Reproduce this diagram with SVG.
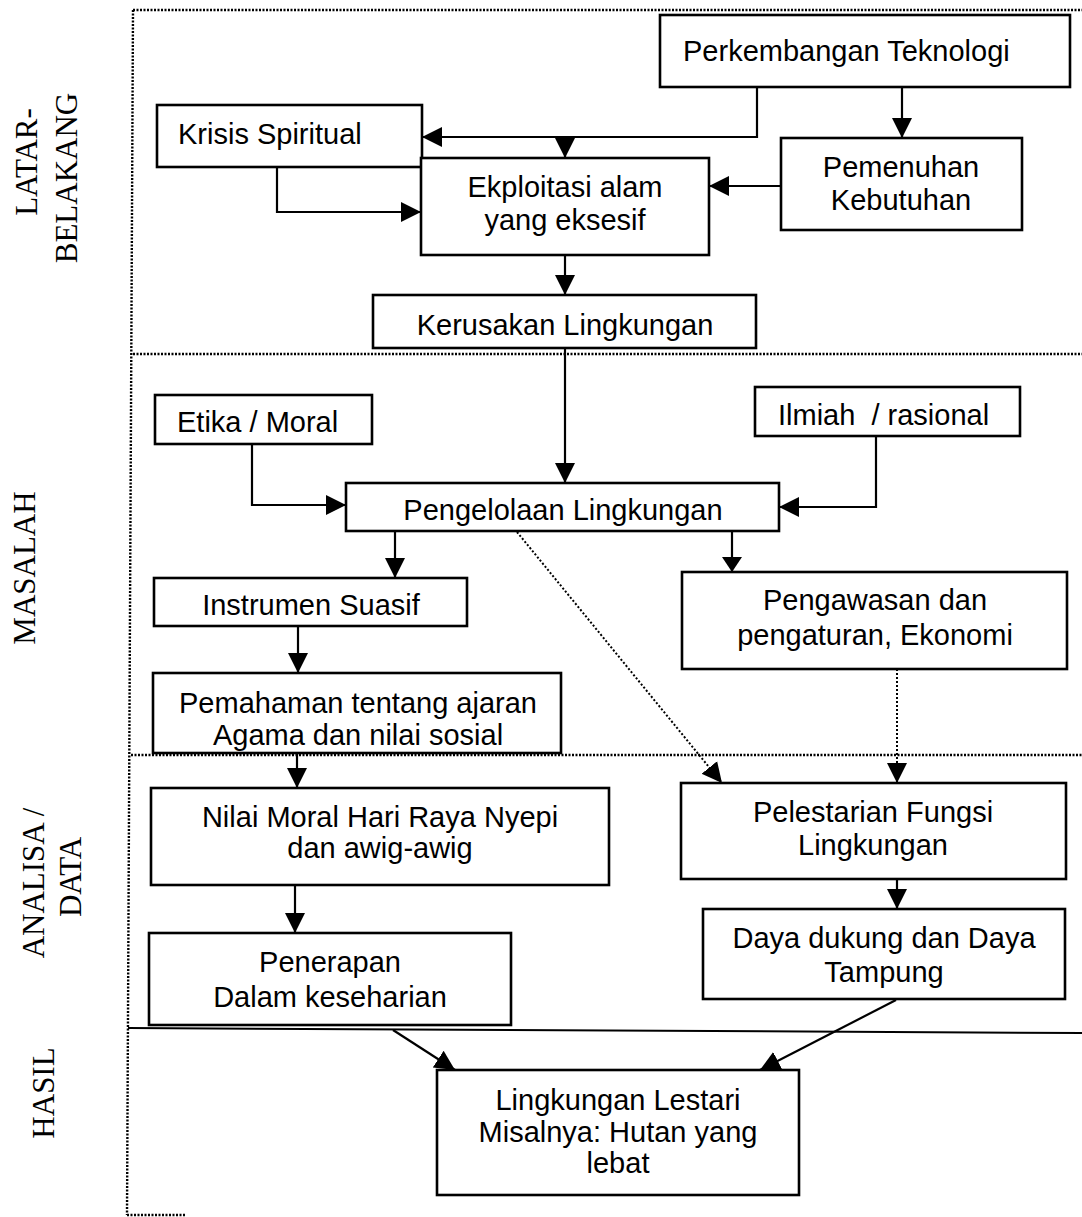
<svg xmlns="http://www.w3.org/2000/svg" width="1082" height="1217" viewBox="0 0 1082 1217">
<defs>
<marker id="ah" markerUnits="userSpaceOnUse" markerWidth="22" markerHeight="22" refX="20" refY="11" orient="auto" viewBox="0 0 22 22">
<path d="M0,1 L20,11 L0,21 z" fill="#000"/>
</marker>
<marker id="ahs" markerUnits="userSpaceOnUse" markerWidth="22" markerHeight="22" refX="15" refY="11" orient="auto" viewBox="0 0 22 22">
<path d="M0,1 L15,11 L0,21 z" fill="#000"/>
</marker>
</defs>
<style>
.box{fill:#fff;stroke:#000;stroke-width:2.6}
.t{font-family:"Liberation Sans",Arial,sans-serif;font-size:29px;fill:#000;text-anchor:middle}
.ts{font-family:"Liberation Sans",Arial,sans-serif;font-size:29px;fill:#000;text-anchor:start}
.lab{font-family:"Liberation Serif","Times New Roman",serif;font-size:31px;fill:#000;text-anchor:middle}
.dot{fill:none;stroke:#000;stroke-width:2.4;stroke-dasharray:2 1.5}
.c{fill:none;stroke:#000;stroke-width:2.2;marker-end:url(#ah)}
.cs{fill:none;stroke:#000;stroke-width:2.2;marker-end:url(#ahs)}
.cd{fill:none;stroke:#000;stroke-width:2;stroke-dasharray:2 2;marker-end:url(#ah)}
</style>
<rect width="1082" height="1217" fill="#fff"/>
<g id="frame">
<line class="dot" x1="133" y1="10" x2="1082" y2="10"/>
<line class="dot" x1="133" y1="10" x2="127" y2="1215"/>
<line class="dot" x1="133" y1="354" x2="1082" y2="354"/>
<line class="dot" x1="131" y1="755" x2="1082" y2="755"/>
<line x1="128" y1="1028" x2="1082" y2="1033" stroke="#000" stroke-width="2"/>
<line class="dot" x1="127" y1="1215" x2="185" y2="1215"/>
</g>
<g id="labels">
<text class="lab" transform="translate(37,162) rotate(-90)">LATAR-</text>
<text class="lab" transform="translate(77,178) rotate(-90)">BELAKANG</text>
<text class="lab" transform="translate(35,568) rotate(-90)">MASALAH</text>
<text class="lab" transform="translate(44,883) rotate(-90)">ANALISA /</text>
<text class="lab" transform="translate(81,877) rotate(-90)">DATA</text>
<text class="lab" transform="translate(54,1093) rotate(-90)">HASIL</text>
</g>
<g id="connectors">
<path class="c" d="M757,87 V137 H422"/>
<path class="c" d="M565,137 V158"/>
<path class="c" d="M902,87 V138"/>
<path class="c" d="M781,186 H709"/>
<path class="c" d="M277,167 V212 H421"/>
<path class="c" d="M565,255 V295"/>
<path class="c" d="M565,348 V483"/>
<path class="c" d="M252,444 V505 H346"/>
<path class="c" d="M876,436 V507 H779"/>
<path class="c" d="M395,531 V578"/>
<path class="cs" d="M732,531 V572"/>
<path class="cd" d="M517,532 L722,783"/>
<path class="cd" d="M897,669 V783"/>
<path class="c" d="M298,626 V673"/>
<path class="c" d="M297,753 V788"/>
<path class="c" d="M295,885 V933"/>
<path class="c" d="M897,879 V909"/>
<path class="c" d="M393,1030 L455,1070"/>
<path class="c" d="M896,1000 L760,1070"/>
</g>
<g id="n-perkembangan">
<rect class="box" x="660" y="15" width="410" height="72"/>
<text class="ts" x="683" y="61">Perkembangan Teknologi</text>
</g>
<g id="n-krisis">
<rect class="box" x="157" y="105" width="265" height="62"/>
<text class="ts" x="178" y="144">Krisis Spiritual</text>
</g>
<g id="n-ekploitasi">
<rect class="box" x="421" y="158" width="288" height="97"/>
<text class="t" x="565" y="197">Ekploitasi alam</text>
<text class="t" x="565" y="230">yang eksesif</text>
</g>
<g id="n-pemenuhan">
<rect class="box" x="781" y="138" width="241" height="92"/>
<text class="t" x="901" y="177">Pemenuhan</text>
<text class="t" x="901" y="210">Kebutuhan</text>
</g>
<g id="n-kerusakan">
<rect class="box" x="373" y="295" width="383" height="53"/>
<text class="t" x="565" y="335">Kerusakan Lingkungan</text>
</g>
<g id="n-etika">
<rect class="box" x="155" y="395" width="217" height="49"/>
<text class="ts" x="177" y="432">Etika / Moral</text>
</g>
<g id="n-ilmiah">
<rect class="box" x="755" y="387" width="265" height="49"/>
<text class="ts" x="778" y="425" xml:space="preserve">Ilmiah  / rasional</text>
</g>
<g id="n-pengelolaan">
<rect class="box" x="346" y="483" width="433" height="48"/>
<text class="t" x="563" y="520">Pengelolaan Lingkungan</text>
</g>
<g id="n-instrumen">
<rect class="box" x="154" y="578" width="313" height="48"/>
<text class="t" x="311" y="615">Instrumen Suasif</text>
</g>
<g id="n-pengawasan">
<rect class="box" x="682" y="572" width="385" height="97"/>
<text class="t" x="875" y="610">Pengawasan dan</text>
<text class="t" x="875" y="645">pengaturan, Ekonomi</text>
</g>
<g id="n-pemahaman">
<rect class="box" x="153" y="673" width="408" height="80"/>
<text class="t" x="358" y="713">Pemahaman tentang ajaran</text>
<text class="t" x="358" y="745">Agama dan nilai sosial</text>
</g>
<g id="n-nilai">
<rect class="box" x="151" y="788" width="458" height="97"/>
<text class="t" x="380" y="827">Nilai Moral Hari Raya Nyepi</text>
<text class="t" x="380" y="858">dan awig-awig</text>
</g>
<g id="n-penerapan">
<rect class="box" x="149" y="933" width="362" height="92"/>
<text class="t" x="330" y="972">Penerapan</text>
<text class="t" x="330" y="1007">Dalam keseharian</text>
</g>
<g id="n-pelestarian">
<rect class="box" x="681" y="783" width="385" height="96"/>
<text class="t" x="873" y="822">Pelestarian Fungsi</text>
<text class="t" x="873" y="855">Lingkungan</text>
</g>
<g id="n-daya">
<rect class="box" x="703" y="909" width="362" height="90"/>
<text class="t" x="884" y="948">Daya dukung dan Daya</text>
<text class="t" x="884" y="982">Tampung</text>
</g>
<g id="n-lestari">
<rect class="box" x="437" y="1070" width="362" height="125"/>
<text class="t" x="618" y="1110">Lingkungan Lestari</text>
<text class="t" x="618" y="1142">Misalnya: Hutan yang</text>
<text class="t" x="618" y="1173">lebat</text>
</g>
</svg>
